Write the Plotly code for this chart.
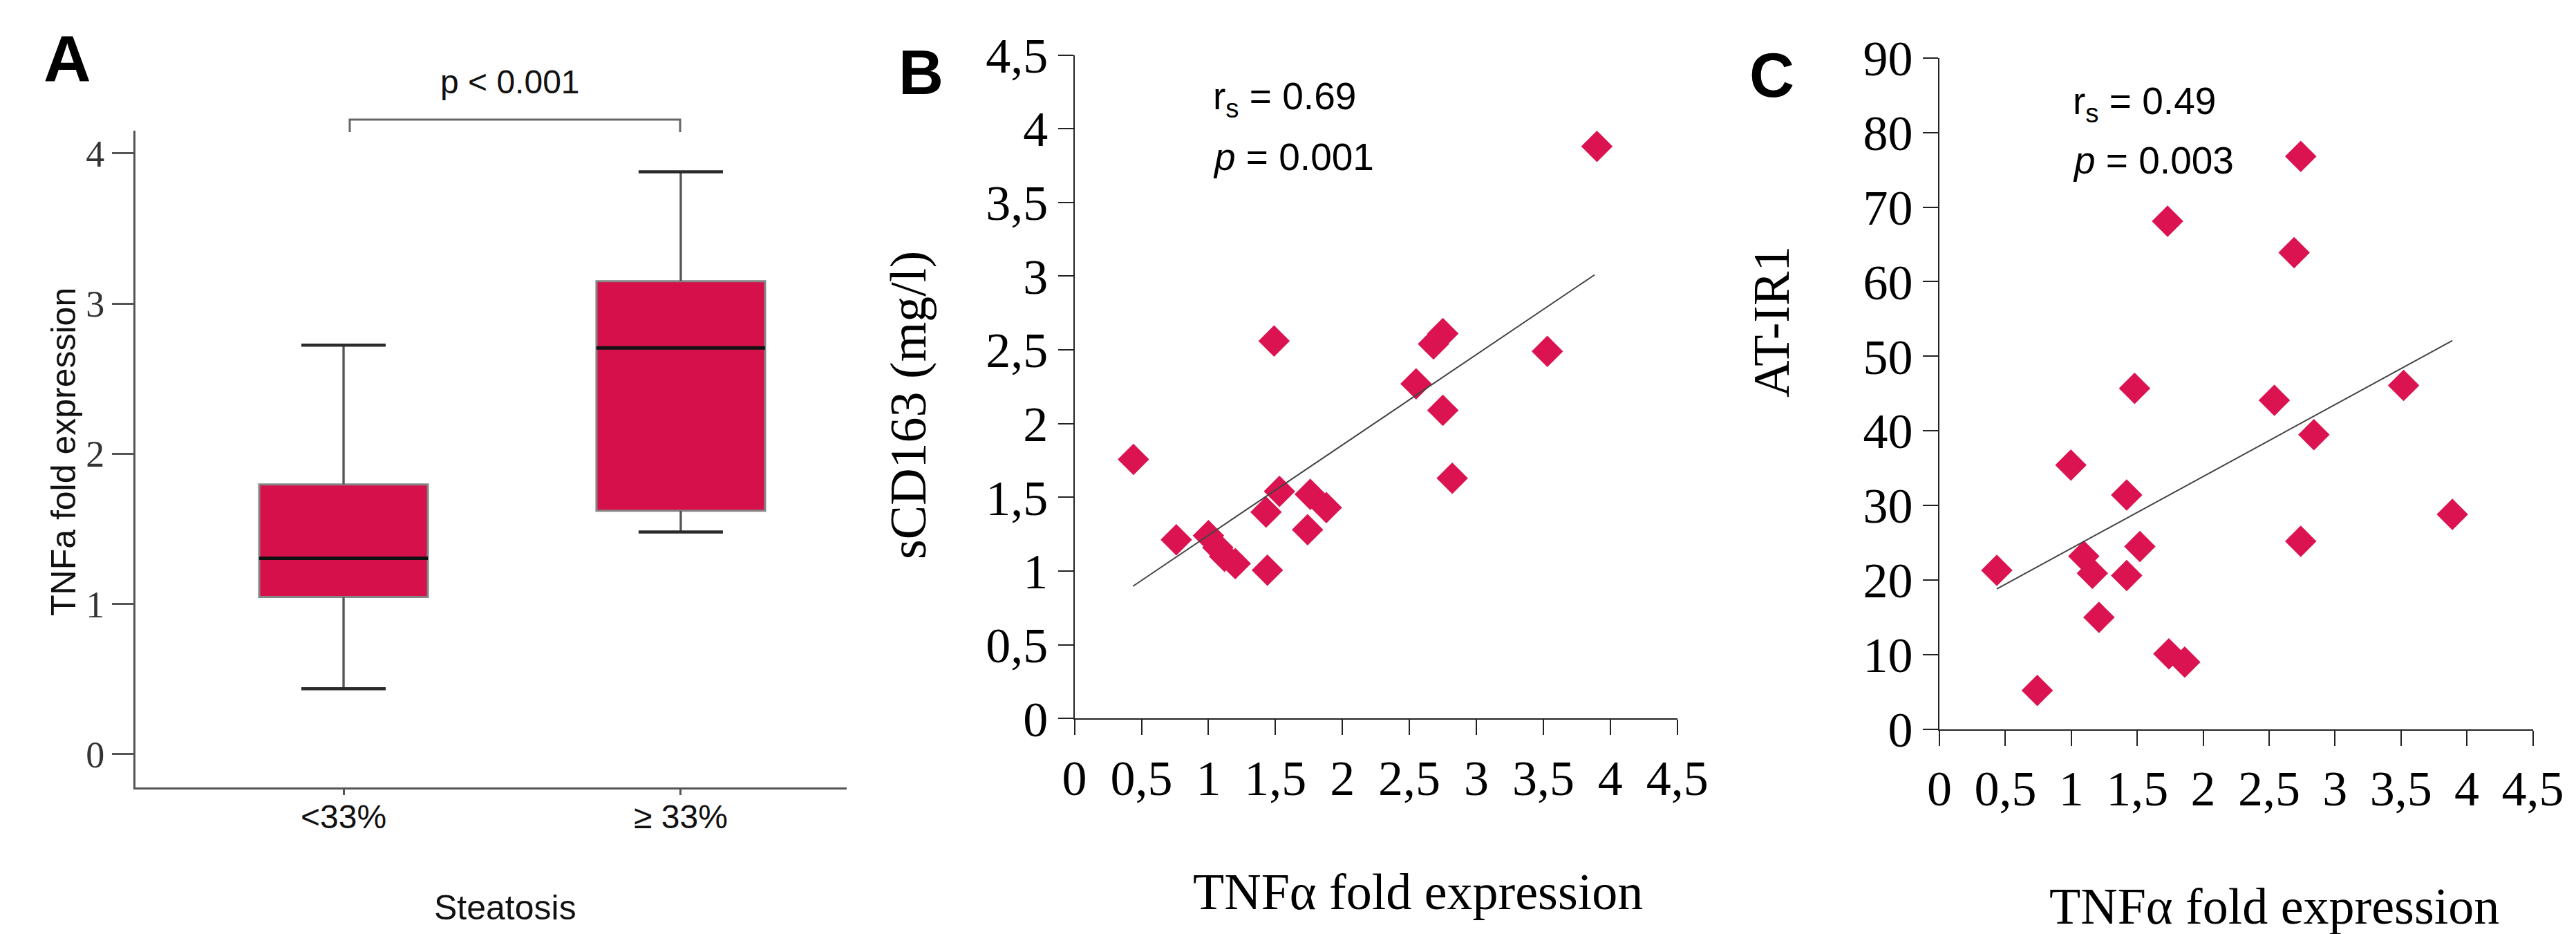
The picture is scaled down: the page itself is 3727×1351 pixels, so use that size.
import plotly.graph_objects as go

W, H = 3727, 1351

# ---------------- Panel A data (box plot) ----------------
steatosis_groups = ["<33%", "\u2265 33%"]
tnf_q1 = [1.047, 1.621]
tnf_median = [1.304, 2.704]
tnf_q3 = [1.796, 3.148]
tnf_lower = [0.436, 1.479]
tnf_upper = [2.723, 3.877]
a_yticks = [0, 1, 2, 3, 4]

# ---------------- Panel B data ----------------
tnf_b = [0.44, 0.76, 1.00, 1.07, 1.12, 1.20, 1.43, 1.44, 1.49, 1.53,
         1.74, 1.76, 1.88, 2.55, 2.68, 2.75, 2.75, 2.82, 3.53, 3.90]
scd163 = [1.757, 1.212, 1.24, 1.16, 1.10, 1.05, 1.40, 1.006, 2.56, 1.54,
          1.28, 1.52, 1.43, 2.27, 2.54, 2.61, 2.09, 1.63, 2.49, 3.88]
fit_b_x = [0.436, 3.883]
fit_b_y = [0.897, 3.009]

# ---------------- Panel C data ----------------
tnf_c = [0.435, 0.742, 0.997, 1.095, 1.16, 1.21, 1.42, 1.42, 1.48, 1.52,
         1.73, 1.74, 1.86, 2.54, 2.69, 2.74, 2.74, 2.84, 3.52, 3.89]
at_ir1 = [21.3, 5.2, 35.4, 23.2, 20.9, 15.0, 31.4, 20.6, 45.7, 24.5,
          68.1, 10.1, 9.0, 44.1, 63.9, 76.8, 25.2, 39.5, 46.1, 28.8]
fit_c_x = [0.435, 3.89]
fit_c_y = [18.8, 52.1]

tick_vals_45 = [0, 0.5, 1, 1.5, 2, 2.5, 3, 3.5, 4, 4.5]
tick_text_45 = ["0", "0,5", "1", "1,5", "2", "2,5", "3", "3,5", "4", "4,5"]
tick_vals_90 = [0, 10, 20, 30, 40, 50, 60, 70, 80, 90]

CRIMSON = "#D5104B"
DIAMOND = "#DB1350"
SERIF = "Liberation Serif, Times New Roman, serif"
SANS = "Liberation Sans, Arial, sans-serif"

def px_x(p):
    return p / W

def px_y(p):
    return 1 - p / H

fig = go.Figure()

# ---- Panel A ----
pos = list(range(len(steatosis_groups)))
fig.add_trace(go.Box(
    x=pos, q1=tnf_q1, median=tnf_median, q3=tnf_q3,
    lowerfence=tnf_lower, upperfence=tnf_upper,
    width=0.5, whiskerwidth=0.5, fillcolor=CRIMSON,
    line=dict(color="#858585", width=3), boxpoints=False,
    xaxis="x", yaxis="y", showlegend=False, hoverinfo="skip"))

wx, wy, cx, cy, mx, my = [], [], [], [], [], []
for i, (q1, q3, lo, hi, md) in enumerate(zip(tnf_q1, tnf_q3, tnf_lower, tnf_upper, tnf_median)):
    wx += [i, i, None, i, i, None]
    wy += [q3, hi, None, q1, lo, None]
    cx += [i - 0.125, i + 0.125, None, i - 0.125, i + 0.125, None]
    cy += [hi, hi, None, lo, lo, None]
    mx += [i - 0.25, i + 0.25, None]
    my += [md, md, None]
fig.add_trace(go.Scatter(x=wx, y=wy, mode="lines", line=dict(color="#555555", width=3),
                         xaxis="x", yaxis="y", showlegend=False, hoverinfo="skip"))
fig.add_trace(go.Scatter(x=cx, y=cy, mode="lines", line=dict(color="#2a2a2a", width=4.5),
                         xaxis="x", yaxis="y", showlegend=False, hoverinfo="skip"))
fig.add_trace(go.Scatter(x=mx, y=my, mode="lines", line=dict(color="#111111", width=5),
                         xaxis="x", yaxis="y", showlegend=False, hoverinfo="skip"))

# ---- Panel B ----
fig.add_trace(go.Scatter(x=tnf_b, y=scd163, mode="markers",
                         marker=dict(symbol="diamond", size=35, color=DIAMOND, line=dict(width=0)),
                         xaxis="x2", yaxis="y2", showlegend=False))
fig.add_trace(go.Scatter(x=fit_b_x, y=fit_b_y, mode="lines",
                         line=dict(color="#444444", width=2),
                         xaxis="x2", yaxis="y2", showlegend=False))

# ---- Panel C ----
fig.add_trace(go.Scatter(x=tnf_c, y=at_ir1, mode="markers",
                         marker=dict(symbol="diamond", size=35, color=DIAMOND, line=dict(width=0)),
                         xaxis="x3", yaxis="y3", showlegend=False))
fig.add_trace(go.Scatter(x=fit_c_x, y=fit_c_y, mode="lines",
                         line=dict(color="#444444", width=2),
                         xaxis="x3", yaxis="y3", showlegend=False))

axis_a = dict(showgrid=False, zeroline=False, showline=True, linecolor="#555555", linewidth=3,
              ticks="outside", tickcolor="#555555", tickwidth=3, automargin=False)
axis_bc = dict(showgrid=False, zeroline=False, showline=True, linecolor="#222222", linewidth=2,
               ticks="outside", tickcolor="#222222", tickwidth=2, ticklen=22, automargin=False,
               tickfont=dict(family=SERIF, size=72, color="#000000"))

fig.update_layout(
    width=W, height=H, autosize=False,
    margin=dict(l=0, r=0, t=0, b=0, pad=0, autoexpand=False),
    paper_bgcolor="white", plot_bgcolor="white",
    showlegend=False,
    xaxis=dict(**axis_a, domain=[px_x(188), px_x(1217)], range=[-0.617, 1.492],
               anchor="y", tickvals=pos, ticktext=steatosis_groups, ticklen=8,
               ticklabelstandoff=-10,
               tickfont=dict(family=SANS, size=48, color="#111111")),
    yaxis=dict(**axis_a, domain=[px_y(1131), px_y(181)], range=[-0.2209, 4.1505],
               anchor="x", tickvals=a_yticks, ticklen=31,
               tickfont=dict(family=SERIF, size=54, color="#333333")),
    xaxis2=dict(**axis_bc, domain=[px_x(1546.6), px_x(2418.7)], range=[0, 4.5], anchor="y2",
                tickvals=tick_vals_45, ticktext=tick_text_45),
    yaxis2=dict(**axis_bc, domain=[px_y(1031.3), px_y(71.5)], range=[0, 4.5], anchor="x2",
                tickvals=tick_vals_45, ticktext=tick_text_45),
    xaxis3=dict(**axis_bc, domain=[px_x(2798), px_x(3656.5)], range=[0, 4.5], anchor="y3",
                tickvals=tick_vals_45, ticktext=tick_text_45),
    yaxis3=dict(**axis_bc, domain=[px_y(1046.8), px_y(75.8)], range=[0, 90], anchor="x3",
                tickvals=tick_vals_90),
)

def ann(text, x, y, size, family, color="#000000", angle=0, xanchor="center", bold=False):
    if bold:
        text = "<b>" + text + "</b>"
    fig.add_annotation(text=text, x=px_x(x), y=px_y(y), xref="paper", yref="paper",
                       showarrow=False, xanchor=xanchor, yanchor="middle", textangle=angle,
                       font=dict(family=family, size=size, color=color))

# panel letters
ann("A", 89, 77, 95, SANS, bold=True)
ann("B", 1324, 97, 90, SANS, bold=True)
ann("C", 2555, 101, 90, SANS, bold=True)

# panel A texts
ann("TNFa fold expression", 84, 646, 50, SANS, color="#111111", angle=-90)
ann("Steatosis", 723, 1305, 50, SANS, color="#111111")
ann("p &lt; 0.001", 730, 111, 48, SANS, color="#111111")
fig.add_shape(type="path", xref="paper", yref="paper",
              path="M {} {} L {} {} L {} {} L {} {}".format(
                  px_x(498), px_y(183), px_x(498), px_y(165), px_x(976), px_y(165), px_x(976), px_y(183)),
              line=dict(color="#666666", width=3))

# panel B texts
ann("sCD163 (mg/l)", 1306, 578, 74, SERIF, angle=-90)
ann("TNF\u03b1 fold expression", 2043, 1282, 74, SERIF)
ann("r<sub>s</sub> = 0.69", 1745, 135, 55, SANS, xanchor="left")
ann("<i>p</i> = 0.001", 1745, 219, 55, SANS, xanchor="left")

# panel C texts
ann("AT-IR1", 2555, 458, 74, SERIF, angle=-90)
ann("TNF\u03b1 fold expression", 3282, 1303, 74, SERIF)
ann("r<sub>s</sub> = 0.49", 2989, 142, 55, SANS, xanchor="left")
ann("<i>p</i> = 0.003", 2989, 224, 55, SANS, xanchor="left")

fig.write_html("out.html")
